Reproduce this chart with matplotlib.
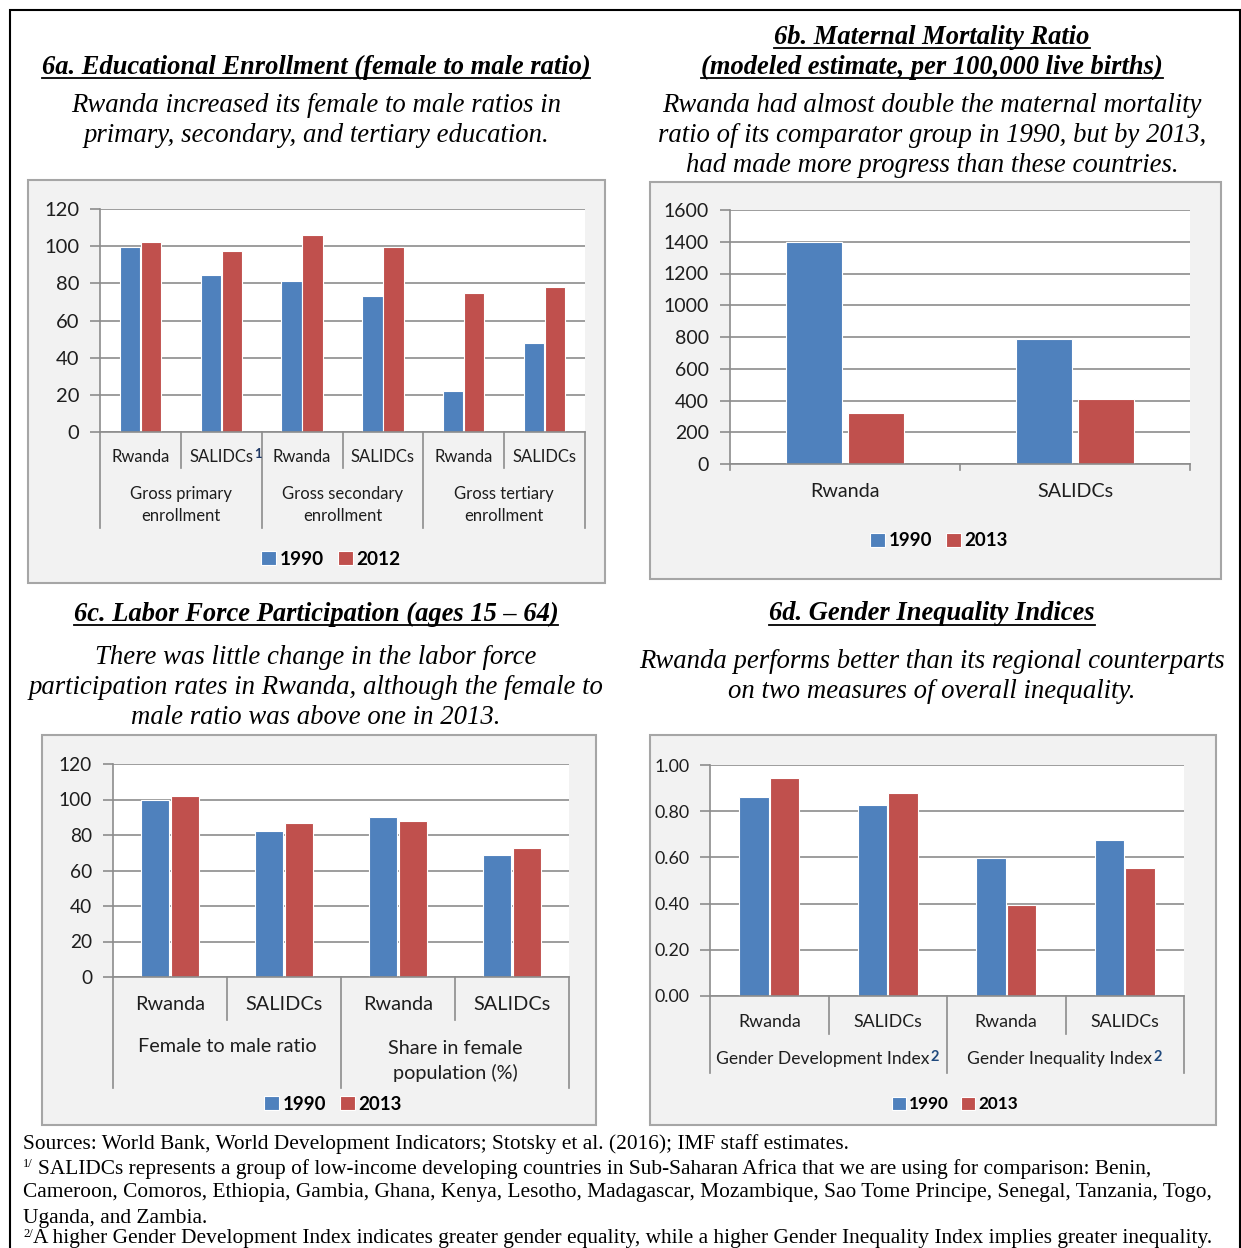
import matplotlib
matplotlib.use("Agg")
import matplotlib.pyplot as plt
import matplotlib.transforms as mtransforms
from matplotlib.patches import Rectangle
from matplotlib.lines import Line2D
import numpy as np

W, H = 1241, 1248
BLUE = "#4F81BD"
RED = "#C0504D"
GRID = "#8C8C8C"
INK = "#1E1E1E"
SANS = ["Lato", "DejaVu Sans"]
SERIF = ["Liberation Serif", "DejaVu Serif"]

# 6a: educational enrollment, female to male ratio
edu_cats = ["Rwanda", "SALIDCs", "Rwanda", "SALIDCs", "Rwanda", "SALIDCs"]
edu_groups = ["Gross primary\nenrollment", "Gross secondary\nenrollment", "Gross tertiary\nenrollment"]
edu_1990 = [99.5, 84.5, 81.5, 73, 22, 48]
edu_2012 = [102, 97.5, 106, 99.5, 75, 78]

# 6b: maternal mortality ratio
mmr_cats = ["Rwanda", "SALIDCs"]
mmr_1990 = [1400, 785]
mmr_2013 = [320, 407]

# 6c: labor force participation
lab_cats = ["Rwanda", "SALIDCs", "Rwanda", "SALIDCs"]
lab_groups = ["Female to male ratio", "Share in female\npopulation (%)"]
lab_1990 = [100, 82, 90, 69]
lab_2013 = [102, 87, 88, 72.5]

# 6d: gender inequality indices
gen_cats = ["Rwanda", "SALIDCs", "Rwanda", "SALIDCs"]
gen_groups = ["Gender Development Index", "Gender Inequality Index"]
gen_1990 = [0.863, 0.827, 0.598, 0.676]
gen_2013 = [0.944, 0.880, 0.395, 0.552]

fig = plt.figure(figsize=(W / 100, H / 100), dpi=100)
fig.patch.set_facecolor("white")


def fy(y):
    return 1 - y / H


def ftext(x, y, s, **kw):
    return fig.text(x / W, fy(y), s, **kw)


def box(x0, y0, x1, y1):
    fig.add_artist(Rectangle((x0 / W, fy(y1)), (x1 - x0) / W, (y1 - y0) / H,
                             transform=fig.transFigure, facecolor="#F2F2F2",
                             edgecolor="#A6A6A6", lw=1.5, zorder=0))


def make_axes(x0, ytop, x1, yzero, ymax, step, fmt, tsize):
    ax = fig.add_axes([x0 / W, fy(yzero), (x1 - x0) / W, (yzero - ytop) / H])
    ax.set_facecolor("white")
    ax.set_ylim(0, ymax)
    ax.set_yticks(np.arange(0, ymax + step / 2, step))
    ax.yaxis.set_major_formatter(plt.FuncFormatter(lambda v, p: fmt.format(v)))
    for s in ["top", "right"]:
        ax.spines[s].set_visible(False)
    for s in ["left", "bottom"]:
        ax.spines[s].set_color(GRID)
        ax.spines[s].set_linewidth(1.2)
    ax.yaxis.grid(True, color=GRID, lw=1.2)
    ax.set_axisbelow(True)
    ax.tick_params(axis="y", length=7, width=1.2, color=GRID, labelsize=tsize,
                   labelcolor=INK, pad=8)
    for t in ax.get_yticklabels():
        t.set_family(SANS)
    ax.set_xticks([])
    return ax


def bars(ax, a, b, width, off):
    x = np.arange(len(a))
    h1 = ax.bar(x - off, a, width, color=BLUE, edgecolor="white", lw=0.8)
    h2 = ax.bar(x + off, b, width, color=RED, edgecolor="white", lw=0.8)
    ax.set_xlim(-0.5, len(a) - 0.5)
    return h1, h2


def seps(ax, xs, y0, y1):
    tr = mtransforms.blended_transform_factory(ax.transData, fig.transFigure)
    for xv in xs:
        ax.plot([xv, xv], [fy(y0), fy(y1)], transform=tr, clip_on=False,
                color=GRID, lw=1.2)


def cat_labels(ax, labels, xs, y, size, ls=1.2):
    tr = mtransforms.blended_transform_factory(ax.transData, fig.transFigure)
    out = []
    for xv, s in zip(xs, labels):
        out.append(ax.text(xv, fy(y), s, transform=tr, ha="center", va="center",
                           fontsize=size, family=SANS, color=INK,
                           linespacing=ls))
    return out


def legend(ax, handles, labels, cx, cy, size):
    ax.legend(handles, labels, loc="center", bbox_to_anchor=(cx / W, fy(cy)),
              bbox_transform=fig.transFigure, ncol=2, frameon=False,
              handlelength=0.8, handleheight=0.8, handletextpad=0.2,
              columnspacing=0.7, borderaxespad=0,
              prop={"family": SANS, "size": size, "weight": "bold"})


# outer frame
fig.add_artist(Rectangle((10 / W, fy(1300)), 1230 / W, 1290 / H,
                         transform=fig.transFigure, fill=False,
                         edgecolor="black", lw=1.5, zorder=0))

sups = []  # (text artist, superscript, colour, size)

# ---- 6a
box(28, 180, 605, 583)
ax = make_axes(100, 209, 585, 432, 120, 20, "{:.0f}", 14.5)
h = bars(ax, edu_1990, edu_2012, 0.25, 0.13)
seps(ax, [0.5, 2.5, 4.5], 432, 468)
seps(ax, [-0.5, 1.5, 3.5, 5.5], 432, 528)
labs = cat_labels(ax, edu_cats, range(6), 457, 12)
cat_labels(ax, edu_groups, [0.5, 2.5, 4.5], 505, 12, ls=1.4)
legend(ax, h, ["1990", "2012"], 331, 559, 13.7)
sups.append((labs[1], "1", "#1F3864", 9.5))

# ---- 6b
box(650, 182, 1221, 579)
ax = make_axes(730, 210, 1190, 464, 1600, 200, "{:.0f}", 14)
h = bars(ax, mmr_1990, mmr_2013, 0.24, 0.135)
seps(ax, [-0.5, 0.5, 1.5], 464, 470)
cat_labels(ax, mmr_cats, range(2), 492, 14.2)
legend(ax, h, ["1990", "2013"], 939, 541, 13.5)

# ---- 6c
box(42, 735, 596, 1125)
ax = make_axes(113, 764, 569, 977, 120, 20, "{:.0f}", 13.8)
h = bars(ax, lab_1990, lab_2013, 0.25, 0.13)
seps(ax, [0.5, 2.5], 977, 1020)
seps(ax, [-0.5, 1.5, 3.5], 977, 1088)
cat_labels(ax, lab_cats, range(4), 1005, 14.3)
cat_labels(ax, lab_groups[:1], [0.5], 1047, 14.3)
cat_labels(ax, lab_groups[1:], [2.5], 1061, 14.3, ls=1.4)
legend(ax, h, ["1990", "2013"], 333, 1104, 13.5)

# ---- 6d
box(650, 735, 1216, 1125)
ax = make_axes(710, 765, 1184, 996, 1.0, 0.2, "{:.2f}", 12.8)
h = bars(ax, gen_1990, gen_2013, 0.25, 0.13)
seps(ax, [0.5, 2.5], 996, 1034)
seps(ax, [-0.5, 1.5, 3.5], 996, 1073)
cat_labels(ax, gen_cats, range(4), 1022, 12.8)
glabs = cat_labels(ax, gen_groups, [0.45, 2.45], 1059, 12.6)
for t in glabs:
    sups.append((t, "2", "#1F497D", 10.5))
legend(ax, h, ["1990", "2013"], 955, 1104, 12.3)

# ---- headings
tkw = dict(fontsize=19.1, family=SERIF, style="italic", weight="bold", ha="center", va="center")
skw = dict(fontsize=19.3, family=SERIF, style="italic", ha="center", va="center")
titles = [
    ftext(316, 67, "6a. Educational Enrollment (female to male ratio)", **tkw),
    ftext(932, 37, "6b. Maternal Mortality Ratio", **tkw),
    ftext(932, 67, "(modeled estimate, per 100,000 live births)", **tkw),
    ftext(316, 614, "6c. Labor Force Participation (ages 15 \u2013 64)", **tkw),
    ftext(932, 614, "6d. Gender Inequality Indices", **tkw),
]
ftext(316, 105, "Rwanda increased its female to male ratios in", **skw)
ftext(316, 136, "primary, secondary, and tertiary education.", **skw)
ftext(932, 105, "Rwanda had almost double the maternal mortality", **skw)
ftext(932, 136, "ratio of its comparator group in 1990, but by 2013,", **skw)
ftext(932, 166, "had made more progress than these countries.", **skw)
ftext(316, 658, "There was little change in the labor force", **skw)
ftext(316, 688, "participation rates in Rwanda, although the female to", **skw)
ftext(316, 718, "male ratio was above one in 2013.", **skw)
ftext(932, 661, "Rwanda performs better than its regional counterparts", **skw)
ftext(932, 691, "on two measures of overall inequality.", **skw)

# ---- footnotes
nkw = dict(fontsize=15.4, family=SERIF, ha="left", va="center")
ftext(23, 1144, "Sources: World Bank, World Development Indicators; Stotsky et al. (2016); IMF staff estimates.", **nkw)
ftext(23, 1164, "1/", fontsize=9, family=SERIF, ha="left", va="center")
ftext(38, 1169, "SALIDCs represents a group of low-income developing countries in Sub-Saharan Africa that we are using for comparison: Benin,", **nkw)
ftext(23, 1193, "Cameroon, Comoros, Ethiopia, Gambia, Ghana, Kenya, Lesotho, Madagascar, Mozambique, Sao Tome Principe, Senegal, Tanzania, Togo,", **nkw)
ftext(23, 1218, "Uganda, and Zambia.", **nkw)
ftext(23, 1234, "2/", fontsize=9, family=SERIF, ha="left", va="center")
ftext(33, 1239, "A higher Gender Development Index indicates greater gender equality, while a higher Gender Inequality Index implies greater inequality.", **nkw)

# underlines and superscripts need the rendered text extents
fig.canvas.draw()
r = fig.canvas.get_renderer()
for t in titles:
    bb = t.get_window_extent(r)
    yl = (bb.y0 + 2) / H
    fig.add_artist(Line2D([bb.x0 / W, bb.x1 / W], [yl, yl],
                          transform=fig.transFigure, color="black", lw=1.3))
for t, s, c, size in sups:
    bb = t.get_window_extent(r)
    fig.text((bb.x1 + 1) / W, (bb.y1 + 1) / H, s, fontsize=size, family=SANS,
             weight="bold", color=c, ha="left", va="top")

fig.savefig("out.png", dpi=100)
